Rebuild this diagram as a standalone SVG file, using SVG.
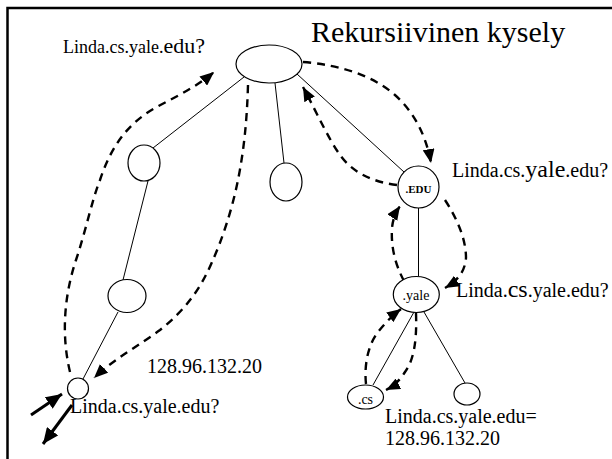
<svg xmlns="http://www.w3.org/2000/svg" width="612" height="459" viewBox="0 0 612 459">
<defs>
<style>
text{font-family:"Liberation Serif","Times New Roman",serif;fill:#000}
.lbl{font-size:20px}
.big{font-size:24px}
.node{fill:#fff;stroke:#000;stroke-width:1.2}
.edge{fill:none;stroke:#000;stroke-width:1}
.dash{fill:none;stroke:#000;stroke-width:2.4;stroke-dasharray:8 6;marker-end:url(#ah)}
.thick{fill:none;stroke:#000;stroke-width:3;marker-end:url(#ah2)}
</style>
<marker id="ah" viewBox="0 0 14 12" refX="14" refY="6" markerWidth="14" markerHeight="12" markerUnits="userSpaceOnUse" orient="auto"><path d="M0,0 L14,6 L0,12 z" fill="#000"/></marker>
<marker id="ah2" viewBox="0 0 16 14" refX="16" refY="7" markerWidth="16" markerHeight="14" markerUnits="userSpaceOnUse" orient="auto"><path d="M0,0 L16,7 L0,14 z" fill="#000"/></marker>
</defs>
<rect width="612" height="459" fill="#fff"/>
<path d="M7.5,459 V8 H612" fill="none" stroke="#000" stroke-width="2.5"/>
<text x="311" y="42" style="font-size:30px">Rekursiivinen kysely</text>

<g id="connectors">
<line class="edge" x1="244" y1="77" x2="153" y2="148"/>
<line class="edge" x1="275" y1="83" x2="284" y2="163"/>
<line class="edge" x1="297" y1="74" x2="404" y2="172"/>
<line class="edge" x1="148" y1="181" x2="123" y2="280"/>
<line class="edge" x1="118" y1="312" x2="83" y2="379"/>
<line class="edge" x1="418.5" y1="208" x2="418.5" y2="276" stroke="#555"/>
<line class="edge" x1="414" y1="312" x2="373" y2="385"/>
<line class="edge" x1="424" y1="312" x2="465" y2="383"/>
<path class="dash" d="M70,372 C60,330 66,290 76,260 C86,230 92,200 100,180 C110,150 125,125 155,108 C175,97 195,88 214,72"/>
<path class="dash" d="M248,85 C247,120 244,150 238,180 C232,210 222,240 212,262 C200,290 185,310 160,330 C140,345 115,358 94,378"/>
<path class="dash" d="M303,62 C340,65 372,75 395,95 C414,112 426,135 431,163"/>
<path class="dash" d="M397,185 C372,182 352,172 340,155 C328,138 318,115 303,87"/>
<path class="dash" d="M404,281 C394,262 391,245 392,228 C393,218 396,212 400,206"/>
<path class="dash" d="M445,200 C458,220 466,240 466,258 C465,272 457,281 445,288"/>
<path class="dash" d="M366,384 C364,365 368,345 378,332 C386,322 393,315 401,309"/>
<path class="dash" d="M416,313 C417,340 414,360 405,372 C400,380 394,386 386,390"/>
<line class="thick" x1="31" y1="415" x2="62" y2="394"/>
<line class="thick" x1="72" y1="405" x2="43" y2="444"/>
</g>

<g id="root"><ellipse class="node" cx="269" cy="64" rx="33" ry="19"/></g>
<g id="n-left1"><ellipse class="node" cx="144" cy="163" rx="16" ry="18"/></g>
<g id="n-mid"><ellipse class="node" cx="286" cy="182" rx="16" ry="19"/></g>
<g id="n-edu"><ellipse class="node" cx="418.5" cy="187" rx="20.5" ry="21"/><text x="418.5" y="192.5" text-anchor="middle" style="font-size:11px;font-weight:bold">.EDU</text></g>
<g id="n-left2"><ellipse class="node" cx="127" cy="296" rx="19" ry="16.5"/></g>
<g id="n-client"><ellipse class="node" cx="78" cy="388.5" rx="10.5" ry="10.5"/></g>
<g id="n-yale"><ellipse class="node" cx="416.3" cy="294.5" rx="23" ry="18"/><text x="416" y="300" text-anchor="middle" style="font-size:14px">.yale</text></g>
<g id="n-cs"><ellipse class="node" cx="365.5" cy="397" rx="18" ry="12"/><text x="365.5" y="404" text-anchor="middle" style="font-size:14px">.cs</text></g>
<g id="n-right"><ellipse class="node" cx="467" cy="394" rx="13" ry="11"/></g>

<g id="labels">
<text x="63" y="53" style="font-size:18px">Linda.cs.yale.<tspan style="font-size:22px">edu?</tspan></text>
<text class="lbl" x="452" y="177">Linda.cs.<tspan class="big">yale</tspan>.edu?</text>
<text class="lbl" x="456" y="297">Linda.<tspan class="big">cs</tspan>.yale.edu?</text>
<text class="lbl" x="147" y="373">128.96.132.20</text>
<text class="lbl" x="70" y="413">Linda.cs.yale.edu?</text>
<text class="lbl" x="385" y="423">Linda.cs.yale.edu=</text>
<text class="lbl" x="385" y="445">128.96.132.20</text>
</g>
</svg>
